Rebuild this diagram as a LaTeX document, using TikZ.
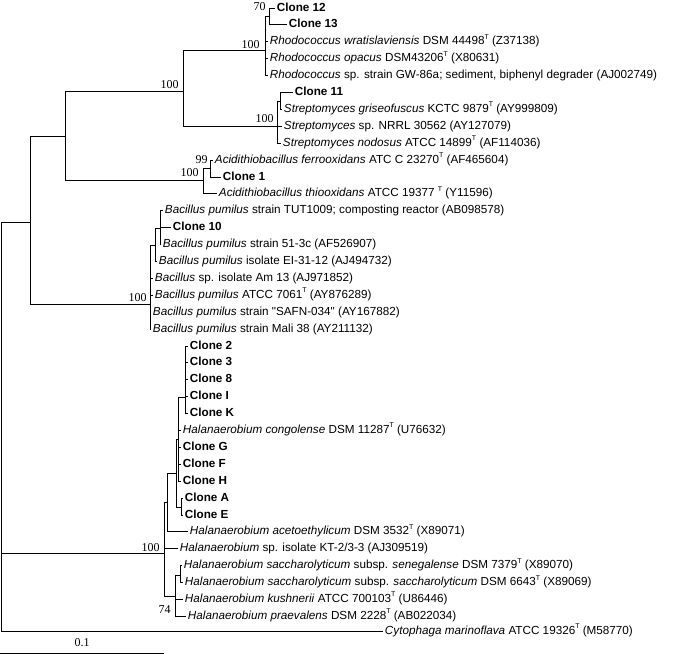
\documentclass[tikz,border=0pt]{standalone}
\usepackage{fontspec}
\setmainfont{Liberation Serif}
\newfontfamily\arialf{Liberation Sans}
\newcommand{\Tsup}{\raisebox{0.9ex}{\fontsize{7}{7}\selectfont T}}
\begin{document}
\begin{tikzpicture}[x=1pt,y=-1pt,line width=0.9pt,
  leaf/.style={anchor=west,inner sep=1.5pt,text height=8.4pt,text depth=2.4pt,font=\arialf\fontsize{11.7}{12}\selectfont},
  clone/.style={leaf,font=\arialf\bfseries\fontsize{11.7}{12}\selectfont},
  boot/.style={inner sep=0pt,font=\fontsize{12}{12}\selectfont}]
\useasboundingbox (0,0) rectangle (674,656);
% internal nodes
\coordinate (root) at (1,426);
\coordinate (n30) at (30,222);
\coordinate (n65) at (65,136);
\coordinate (n183) at (183,91);
\coordinate (rh) at (265,50);
\coordinate (rhs) at (269,16);
\coordinate (s0) at (277,126);
\coordinate (ss) at (280,101);
\coordinate (a0) at (203,180);
\coordinate (asub) at (210,168);
\coordinate (b0) at (150,304);
\coordinate (b1) at (155,245);
\coordinate (b2) at (160,228);
\coordinate (h0) at (164,553);
\coordinate (h1) at (167,502);
\coordinate (h2) at (176,473);
\coordinate (h3) at (178,439);
\coordinate (cl) at (185,397);
\coordinate (ae) at (181,507);
\coordinate (n74) at (175,596);
\coordinate (sub) at (180,575);
% leaves
\node[clone] (c12) at (275,8) {Clone 12};
\node[clone] (c13) at (287,24.9) {Clone 13};
\node[leaf] (wrat) at (268,41.8) {\textit{Rhodococcus wratislaviensis} DSM 44498\Tsup{} (Z37138)};
\node[leaf] (opac) at (268,58.7) {\textit{Rhodococcus opacus} DSM43206\Tsup{} (X80631)};
\node[leaf] (rhsp) at (268,75.6) {\textit{Rhodococcus} sp. strain GW-86a; sediment, biphenyl degrader (AJ002749)};
\node[clone] (c11) at (293,92.5) {Clone 11};
\node[leaf] (gris) at (282,109.4) {\textit{Streptomyces griseofuscus} KCTC 9879\Tsup{} (AY999809)};
\node[leaf] (nrrl) at (282,126.3) {\textit{Streptomyces} sp. NRRL 30562 (AY127079)};
\node[leaf] (nodo) at (281,143.2) {\textit{Streptomyces nodosus} ATCC 14899\Tsup{} (AF114036)};
\node[leaf] (ferro) at (213,160.1) {\textit{Acidithiobacillus ferrooxidans} ATC C 23270\Tsup{} (AF465604)};
\node[clone] (c1) at (221,177) {Clone 1};
\node[leaf] (thio) at (217,193.9) {\textit{Acidithiobacillus thiooxidans} ATCC 19377 \Tsup{} (Y11596)};
\node[leaf] (tut) at (163,210.8) {\textit{Bacillus pumilus} strain TUT1009; composting reactor (AB098578)};
\node[clone] (c10) at (171,227.7) {Clone 10};
\node[leaf] (b513) at (161,244.6) {\textit{Bacillus pumilus} strain 51-3c (AF526907)};
\node[leaf] (ei) at (157,261.5) {\textit{Bacillus pumilus} isolate EI-31-12 (AJ494732)};
\node[leaf] (am13) at (153,278.4) {\textit{Bacillus} sp. isolate Am 13 (AJ971852)};
\node[leaf] (atcc) at (153,295.3) {\textit{Bacillus pumilus} ATCC 7061\Tsup{} (AY876289)};
\node[leaf] (safn) at (151,312.2) {\textit{Bacillus pumilus} strain "SAFN-034" (AY167882)};
\node[leaf] (mali) at (151,329.1) {\textit{Bacillus pumilus} strain Mali 38 (AY211132)};
\node[clone] (c2) at (188,346) {Clone 2};
\node[clone] (c3) at (188,362.9) {Clone 3};
\node[clone] (c8) at (188,379.8) {Clone 8};
\node[clone] (cI) at (188,396.7) {Clone I};
\node[clone] (cK) at (188,413.6) {Clone K};
\node[leaf] (cong) at (181,430.5) {\textit{Halanaerobium congolense} DSM 11287\Tsup{} (U76632)};
\node[clone] (cG) at (181,447.4) {Clone G};
\node[clone] (cF) at (181,464.3) {Clone F};
\node[clone] (cH) at (181,481.2) {Clone H};
\node[clone] (cA) at (183,498.1) {Clone A};
\node[clone] (cE) at (183,515) {Clone E};
\node[leaf] (acet) at (188,531.9) {\textit{Halanaerobium acetoethylicum} DSM 3532\Tsup{} (X89071)};
\node[leaf] (kt) at (178,548.8) {\textit{Halanaerobium} sp. isolate KT-2/3-3 (AJ309519)};
\node[leaf] (sene) at (182,565.7) {\textit{Halanaerobium saccharolyticum} subsp. \textit{senegalense} DSM 7379\Tsup{} (X89070)};
\node[leaf] (sacc) at (183,582.6) {\textit{Halanaerobium saccharolyticum} subsp. \textit{saccharolyticum} DSM 6643\Tsup{} (X89069)};
\node[leaf] (kush) at (183,599.5) {\textit{Halanaerobium kushnerii} ATCC 700103\Tsup{} (U86446)};
\node[leaf] (prae) at (186,616.4) {\textit{Halanaerobium praevalens} DSM 2228\Tsup{} (AB022034)};
\node[leaf] (cyto) at (383,631) {\textit{Cytophaga marinoflava} ATCC 19326\Tsup{} (M58770)};
% branches
\draw (root) |- (n30);
\draw (root) |- (h0);
\draw (root) |- (cyto.west);
\draw (n30) |- (n65);
\draw (n30) |- (b0);
\draw (n65) |- (n183);
\draw (n65) |- (a0);
\draw (n183) |- (rh);
\draw (n183) |- (s0);
\draw (rh) |- (rhs);
\draw (rh) |- (wrat.west);
\draw (rh) |- (opac.west);
\draw (rh) |- (rhsp.west);
\draw (rhs) |- (c12.west);
\draw (rhs) |- (c13.west);
\draw (s0) |- (ss);
\draw (s0) |- (nrrl.west);
\draw (s0) |- (nodo.west);
\draw (ss) |- (c11.west);
\draw (ss) |- (gris.west);
\draw (a0) |- (asub);
\draw (a0) |- (thio.west);
\draw (asub) |- (ferro.west);
\draw (asub) |- (c1.west);
\draw (b0) |- (b1);
\draw (b0) |- (am13.west);
\draw (b0) |- (atcc.west);
\draw (b0) |- (safn.west);
\draw (b0) |- (mali.west);
\draw (b1) |- (b2);
\draw (b1) |- (ei.west);
\draw (b2) |- (tut.west);
\draw (b2) |- (c10.west);
\draw (b2) |- (b513.west);
\draw (h0) |- (h1);
\draw (h0) |- (kt.west);
\draw (h0) |- (n74);
\draw (h1) |- (h2);
\draw (h1) |- (acet.west);
\draw (h2) |- (h3);
\draw (h2) |- (ae);
\draw (h3) |- (cl);
\draw (h3) |- (cong.west);
\draw (h3) |- (cG.west);
\draw (h3) |- (cF.west);
\draw (h3) |- (cH.west);
\draw (cl) |- (c2.west);
\draw (cl) |- (c3.west);
\draw (cl) |- (c8.west);
\draw (cl) |- (cI.west);
\draw (cl) |- (cK.west);
\draw (ae) |- (cA.west);
\draw (ae) |- (cE.west);
\draw (n74) |- (sub);
\draw (n74) |- (kush.west);
\draw (n74) |- (prae.west);
\draw (sub) |- (sene.west);
\draw (sub) |- (sacc.west);
% bootstrap values
\node[boot,anchor=east] (bs70) at (266,7) {70};
\node[boot,anchor=base east] (bsrh) at (260,48.5) {100};
\node[boot,anchor=base east] (bs183) at (179,88) {100};
\node[boot,anchor=base east] (bss0) at (274,122) {100};
\node[boot,anchor=base east] (bs99) at (208,163) {99};
\node[boot,anchor=base east] (bsa0) at (199,176) {100};
\node[boot,anchor=base east] (bsb0) at (147,301) {100};
\node[boot,anchor=base east] (bsh0) at (160,551) {100};
\node[boot,anchor=base east] (bs74) at (171,613) {74};
% scale bar
\coordinate (sbl) at (0,653);
\coordinate (sbr) at (164,653);
\draw (sbl) -- (sbr);
\node[boot,anchor=base] (sbt) at (82,646) {0.1};
\end{tikzpicture}
\end{document}
